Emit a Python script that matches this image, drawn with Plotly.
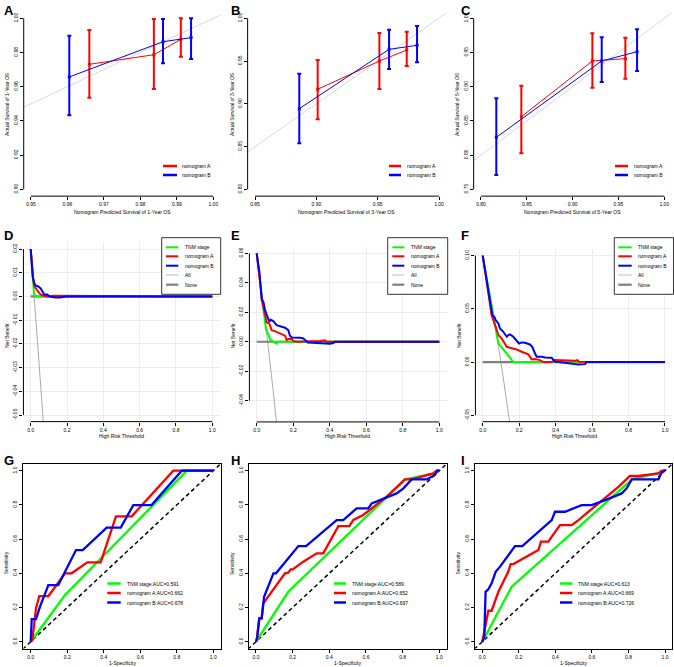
import plotly.graph_objects as go
from plotly.subplots import make_subplots

W, H = 674, 667
FONT = "Liberation Sans, Arial, sans-serif"
RED, BLUE, GREEN = "#FF0000", "#0000FF", "#00FF00"
GREY_ALL, GREY_NONE = "#AAAAAA", "#808080"

# ---------- A-C : calibration curves ----------
cal_outcome = ["1-Year OS", "3-Year OS", "5-Year OS"]
cal_names = ["nomogram A", "nomogram B"]
ideal = [0, 1.1]

nomA_x = [[0.9660, 0.9837, 0.9911], [0.9011, 0.9514, 0.9737], [0.8440, 0.9215, 0.9575]]
nomA_y = [[0.9731, 0.9787, 0.9877], [0.9170, 0.9500, 0.9629], [0.8561, 0.9376, 0.9410]]
nomA_lo = [[0.9536, 0.9587, 0.9775], [0.8819, 0.9173, 0.9442], [0.8026, 0.8985, 0.9117]]
nomA_hi = [[0.9932, 0.9996, 1.0000], [0.9512, 0.9828, 0.9843], [0.9015, 0.9780, 0.9716]]

nomB_x = [[0.9605, 0.9862, 0.9939], [0.8861, 0.9593, 0.9821], [0.8167, 0.9317, 0.9703]]
nomB_y = [[0.9657, 0.9863, 0.9887], [0.8943, 0.9637, 0.9684], [0.8260, 0.9376, 0.9512]]
nomB_lo = [[0.9433, 0.9737, 0.9762], [0.8538, 0.9407, 0.9485], [0.7710, 0.9069, 0.9230]]
nomB_hi = [[0.9898, 0.9996, 1.0000], [0.9352, 0.9867, 0.9910], [0.8830, 0.9722, 0.9839]]

# ---------- D-F : decision curves ----------
dca_names = ["TNM stage", "nomogram A", "nomogram B", "All", "None"]
none_x, none_y = [0, 1], [0, 0]
all_x = [[0, 0.02, 0.04, 0.06, 0.08], [0, 0.03, 0.06, 0.09, 0.12], [0, 0.05, 0.10, 0.15]]
all_y = [[0.02, 0.0, -0.021, -0.043, -0.065], [0.06, 0.031, 0.0, -0.033, -0.068], [0.10, 0.053, 0.0, -0.059]]

tnm_x = [[0, 0.007, 0.013, 0.018, 0.026, 1.0],
         [0, 0.027, 0.05, 0.075, 0.10, 0.11, 0.115, 1.0],
         [0, 0.068, 0.086, 0.13, 0.168, 1.0]]
tnm_y = [[0.02, 0.0111, 0.0055, 0.0013, 0, 0],
         [0.06, 0.033, 0.009, 0.0012, -0.0005, -0.0012, 0, 0],
         [0.10, 0.0347, 0.0175, 0.0085, 0, 0]]

dA_x = [[0, 0.009, 0.015, 0.022, 0.033, 0.048, 0.061, 0.088, 0.125, 0.152, 0.161, 1.0],
        [0, 0.018, 0.033, 0.046, 0.055, 0.069, 0.082, 0.10, 0.119, 0.137, 0.155, 0.164, 0.173,
         0.192, 0.20, 0.219, 0.255, 0.347, 0.374, 0.383, 1.0],
        [0, 0.031, 0.049, 0.068, 0.086, 0.104, 0.113, 0.132, 0.150, 0.186, 0.214, 0.250, 0.269,
         0.287, 0.314, 0.333, 0.378, 0.397, 0.510, 0.519, 0.528, 0.570, 1.0]]
dA_y = [[0.02, 0.0104, 0.0069, 0.0041, 0.0027, 0.0013, 0.0006, 0, 0.0003, 0.0003, 0, 0],
        [0.06, 0.0407, 0.0249, 0.0181, 0.0131, 0.0124, 0.0079, 0.0072, 0.0063, 0.0052, 0.0041,
         0.0011, 0.0018, 0.0018, 0.0005, 0, 0, 0.0005, 0.0009, 0, 0],
        [0.10, 0.0629, 0.0441, 0.0347, 0.0254, 0.0222, 0.0197, 0.0144, 0.0135, 0.0119, 0.0097,
         0.0072, 0.0025, 0.0028, 0.0019, 0, 0, 0.0019, 0.0013, 0.0019, 0.0003, 0, 0]]

dB_x = [[0, 0.0055, 0.011, 0.020, 0.029, 0.042, 0.055, 0.066, 0.075, 0.092, 0.103, 0.134, 0.161,
         0.198, 1.0],
        [0, 0.0146, 0.0274, 0.0365, 0.0456, 0.0547, 0.0693, 0.0766, 0.0912, 0.109, 0.128, 0.155,
         0.173, 0.182, 0.192, 0.210, 0.237, 0.255, 0.27, 0.28, 0.328, 0.40, 0.42, 0.43, 1.0],
        [0, 0.022, 0.040, 0.053, 0.064, 0.071, 0.086, 0.095, 0.113, 0.132, 0.141, 0.150, 0.168,
         0.186, 0.199, 0.214, 0.232, 0.259, 0.272, 0.287, 0.296, 0.324, 0.342, 0.378, 0.397,
         0.415, 0.488, 0.525, 0.561, 0.570, 1.0]]
dB_y = [[0.02, 0.0132, 0.0083, 0.0055, 0.0045, 0.0042, 0.0034, 0.002, 0.0008, 0.0008, 0, -0.0004,
         -0.0004, 0, 0],
        [0.06, 0.0475, 0.0283, 0.0271, 0.0215, 0.0181, 0.0136, 0.0149, 0.0140, 0.0113, 0.0106,
         0.0095, 0.0079, 0.0041, 0.0029, 0.0029, 0.0027, 0.0023, 0.0005, -0.0005, -0.0009,
         -0.0014, -0.0009, 0, 0],
        [0.10, 0.0756, 0.0566, 0.0441, 0.0426, 0.0395, 0.0363, 0.0316, 0.0285, 0.0238, 0.0254,
         0.0260, 0.0238, 0.0207, 0.0175, 0.0185, 0.0182, 0.0166, 0.0144, 0.0081, 0.005, 0.005,
         0.0044, 0.0041, 0.0003, 0, -0.0013, -0.0022, -0.0019, 0, 0]]

# ---------- G-I : ROC curves ----------
roc_labels = [["TNM stage:AUC=0.591", "nomogram A:AUC=0.662", "nomogram B:AUC=0.678"],
              ["TNM stage:AUC=0.589", "nomogram A:AUC=0.652", "nomogram B:AUC=0.697"],
              ["TNM stage:AUC=0.613", "nomogram A:AUC=0.669", "nomogram B:AUC=0.726"]]
chance = [-0.1, 1.1]

rT_x = [[0, 0.188, 0.855, 1.0], [0, 0.176, 0.813, 0.976, 0.995, 1.0], [0, 0.161, 0.82, 0.98, 1.0]]
rT_y = [[0, 0.273, 1.0, 1.0], [0, 0.292, 0.949, 0.984, 1.0, 1.0], [0, 0.322, 0.95, 0.99, 1.0]]

rA_x = [[0, 0.009, 0.029, 0.047, 0.097, 0.188, 0.224, 0.31, 0.383, 0.467, 0.553, 0.781, 1.0],
        [0, 0.004, 0.018, 0.031, 0.04, 0.158, 0.176, 0.189, 0.2, 0.258, 0.331, 0.367, 0.449,
         0.509, 0.531, 0.585, 0.713, 0.813, 0.849, 0.967, 0.985, 1.0],
        [0, 0.033, 0.051, 0.088, 0.142, 0.155, 0.17, 0.307, 0.321, 0.361, 0.425, 0.489, 0.526,
         0.58, 0.745, 0.808, 0.854, 0.964, 0.982, 1.0]]
rA_y = [[0, 0.01, 0.195, 0.267, 0.267, 0.40, 0.40, 0.464, 0.464, 0.733, 0.733, 1.0, 1.0],
        [0, 0.01, 0.136, 0.136, 0.224, 0.40, 0.404, 0.423, 0.423, 0.468, 0.517, 0.517, 0.676,
         0.676, 0.712, 0.741, 0.848, 0.949, 0.949, 0.984, 1.0, 1.0],
        [0, 0.181, 0.181, 0.292, 0.409, 0.454, 0.454, 0.536, 0.585, 0.585, 0.682, 0.682, 0.711,
         0.76, 0.906, 0.969, 0.969, 0.984, 1.0, 1.0]]

rB_x = [[0, 0.0055, 0.029, 0.042, 0.051, 0.0967, 0.151, 0.248, 0.285, 0.416, 0.493, 0.562, 0.662,
         0.827, 1.0],
        [0, 0.007, 0.018, 0.031, 0.044, 0.095, 0.109, 0.231, 0.273, 0.404, 0.44, 0.476, 0.549,
         0.613, 0.631, 0.767, 0.804, 0.849, 0.931, 0.976, 0.989, 1.0],
        [0, 0.011, 0.018, 0.033, 0.051, 0.073, 0.097, 0.179, 0.219, 0.38, 0.398, 0.453, 0.544,
         0.599, 0.672, 0.763, 0.79, 0.818, 0.964, 0.978, 0.996, 1.0]]
rB_y = [[0, 0.1326, 0.1326, 0.185, 0.205, 0.331, 0.331, 0.536, 0.536, 0.667, 0.667, 0.799, 0.799,
         1.0, 1.0],
        [0, 0.029, 0.136, 0.136, 0.263, 0.40, 0.40, 0.559, 0.559, 0.682, 0.711, 0.711, 0.78,
         0.78, 0.809, 0.867, 0.897, 0.949, 0.949, 0.975, 1.0, 1.0],
        [0, 0.029, 0.292, 0.306, 0.341, 0.409, 0.439, 0.559, 0.559, 0.711, 0.76, 0.76, 0.799,
         0.799, 0.828, 0.867, 0.897, 0.949, 0.949, 0.984, 1.0, 1.0]]

# ---------- panel geometry (pixel position of first/last tick) ----------
letters = list("ABCDEFGHI")
x_lims = [(0.95, 1.0), (0.85, 1.0), (0.80, 1.0)] + [(0, 1)] * 6
x_ticks = [(0.95, 1.0, 0.01), (0.85, 1.0, 0.05), (0.80, 1.0, 0.05)] + [(0, 1, 0.2)] * 6
x_px = [(31, 213.3), (255, 439), (481, 664.3),
        (30.7, 212.3), (256.7, 439.3), (482.7, 665),
        (30.7, 213.3), (256, 439.3), (482.3, 665)]
y_lims = [(0.90, 1.0), (0.80, 1.0), (0.75, 1.0),
          (-0.05, 0.02), (-0.05, 0.06), (-0.05, 0.10), (0, 1), (0, 1), (0, 1)]
y_ticks = [(0.90, 1.0, 0.02), (0.80, 1.0, 0.05), (0.75, 1.0, 0.05),
           (-0.05, 0.02, 0.01), (-0.04, 0.06, 0.02), (-0.05, 0.10, 0.05)] + [(0, 1, 0.2)] * 3
y_px = [(189.3, 18.3)] * 3 + [(415, 249), (400.7, 253.3), (415.3, 255.7)] + [(641.7, 470.7)] * 3
x_dec = [2, 2, 2, 1, 1, 1, 1, 1, 1]
y_dec = [2, 2, 2, 2, 2, 2, 1, 1, 1]


def span(lim, ticks, px):
    e = 0.04 * (lim[1] - lim[0])
    r = [lim[0] - e, lim[1] + e]
    s = (px[1] - px[0]) / (ticks[1] - ticks[0])
    return r, [px[0] + (v - ticks[0]) * s for v in r]


def tickset(t, d):
    n = int(round((t[1] - t[0]) / t[2]))
    vals = [round(t[0] + i * t[2], 4) + 0.0 for i in range(n + 1)]
    return vals, [f"{v:.{d}f}" for v in vals]


def px(x):
    return x / W


def py(y):
    return 1 - y / H


fig = make_subplots(rows=3, cols=3)
shapes, annos = [], []

for k in range(9):
    n = "" if k == 0 else str(k + 1)
    row = k // 3
    xr, xp = span(x_lims[k], x_ticks[k], x_px[k])
    yr, yp = span(y_lims[k], y_ticks[k], y_px[k])
    xv, xt = tickset(x_ticks[k], x_dec[k])
    yv, yt = tickset(y_ticks[k], y_dec[k])
    common = dict(ticks="outside", ticklen=3, tickwidth=0.8, tickcolor="black",
                  tickfont=dict(size=5, color="black", family=FONT), zeroline=False,
                  showgrid=(row == 1), gridcolor="#EDEDED", gridwidth=0.8,
                  showline=(row == 2), mirror=(row == 2), linecolor="black", linewidth=1)
    fig.layout["xaxis" + n].update(range=xr, domain=[max(0, px(xp[0])), min(1, px(xp[1]))],
                                   tickmode="array", tickvals=xv, ticktext=xt, **common)
    fig.layout["yaxis" + n].update(range=yr, domain=[py(yp[0]), py(yp[1])], tickangle=-90,
                                   tickmode="array", tickvals=yv, ticktext=yt, **common)
    if row < 2:
        shapes.append(dict(type="line", xref="x" + n, yref="y" + n + " domain",
                           x0=x_ticks[k][0], x1=x_ticks[k][1], y0=0, y1=0,
                           line=dict(color="black", width=1)))
        shapes.append(dict(type="line", xref="x" + n + " domain", yref="y" + n,
                           x0=0, x1=0, y0=y_ticks[k][0], y1=y_ticks[k][1],
                           line=dict(color="black", width=1)))
    # panel letter
    lx = [2, 229, 459][k % 3]
    ly = [1, 226, 451][row]
    annos.append(dict(text=f"<b>{letters[k]}</b>", x=px(lx), y=py(ly), xref="paper", yref="paper",
                      xanchor="left", yanchor="top", showarrow=False,
                      font=dict(size=13, color="black", family=FONT)))

# ---------- calibration traces ----------
for i in range(3):
    fig.add_trace(go.Scatter(x=ideal, y=ideal, mode="lines", line=dict(color="#D9D9D9", width=1),
                             showlegend=False, hoverinfo="skip"), row=1, col=i + 1)
    for xs, ys, lo, hi, c in [(nomA_x[i], nomA_y[i], nomA_lo[i], nomA_hi[i], RED),
                              (nomB_x[i], nomB_y[i], nomB_lo[i], nomB_hi[i], BLUE)]:
        fig.add_trace(go.Scatter(
            x=xs, y=ys, mode="lines+markers", line=dict(color=c, width=1),
            marker=dict(symbol="square", size=3, color=c),
            error_y=dict(type="data", symmetric=False,
                         array=[h - y for h, y in zip(hi, ys)],
                         arrayminus=[y - l for l, y in zip(lo, ys)],
                         color=c, thickness=2, width=2),
            showlegend=False), row=1, col=i + 1)

# ---------- decision curve traces ----------
for i in range(3):
    c = i + 1
    fig.add_trace(go.Scatter(x=all_x[i], y=all_y[i], mode="lines",
                             line=dict(color=GREY_ALL, width=1), showlegend=False), row=2, col=c)
    fig.add_trace(go.Scatter(x=none_x, y=none_y, mode="lines",
                             line=dict(color=GREY_NONE, width=2.2), showlegend=False), row=2, col=c)
    for xs, ys, col in [(tnm_x[i], tnm_y[i], GREEN), (dA_x[i], dA_y[i], RED), (dB_x[i], dB_y[i], BLUE)]:
        fig.add_trace(go.Scatter(x=xs, y=ys, mode="lines", line=dict(color=col, width=2),
                                 showlegend=False), row=2, col=c)

# ---------- ROC traces ----------
for i in range(3):
    c = i + 1
    fig.add_trace(go.Scatter(x=chance, y=chance, mode="lines",
                             line=dict(color="black", width=1.5, dash="4px,3px"),
                             showlegend=False), row=3, col=c)
    for xs, ys, col in [(rT_x[i], rT_y[i], GREEN), (rA_x[i], rA_y[i], RED), (rB_x[i], rB_y[i], BLUE)]:
        fig.add_trace(go.Scatter(x=xs, y=ys, mode="lines", line=dict(color=col, width=2.3),
                                 showlegend=False), row=3, col=c)


# ---------- manual legends ----------
def legend_item(x0, x1, xt, y, color, width, label):
    shapes.append(dict(type="line", xref="paper", yref="paper", x0=px(x0), x1=px(x1),
                       y0=py(y), y1=py(y), line=dict(color=color, width=width)))
    annos.append(dict(text=label, x=px(xt), y=py(y), xref="paper", yref="paper",
                      xanchor="left", yanchor="middle", showarrow=False,
                      font=dict(size=5, color="black", family=FONT)))


for (x0, x1, xt) in [(163, 177, 180), (389, 401, 405), (615, 628, 632)]:
    for y, col, lab in zip([166, 175], [RED, BLUE], cal_names):
        legend_item(x0, x1, xt, y, col, 2.5, lab)

for (bx0, bx1, x0, x1, xt) in [(161.7, 220.7, 166, 178.3, 182.7),
                               (387.7, 447.7, 392.3, 404.3, 409.3),
                               (614.3, 673.5, 618.3, 631.7, 636)]:
    shapes.append(dict(type="rect", xref="paper", yref="paper", x0=px(bx0), x1=px(bx1),
                       y0=py(237.7), y1=py(294.3), line=dict(color="black", width=0.8),
                       fillcolor="white", layer="above"))
    for y, col, w, lab in zip([247.3, 256.3, 265.7, 275, 284.7],
                              [GREEN, RED, BLUE, GREY_ALL, GREY_NONE],
                              [2, 2, 2, 0.8, 2.2], dca_names):
        legend_item(x0, x1, xt, y, col, w, lab)

for i, (x0, x1, xt) in enumerate([(107.3, 120.7, 125), (334, 346, 350), (560, 572.3, 576)]):
    for y, col, lab in zip([583.5, 593, 602.5], [GREEN, RED, BLUE], roc_labels[i]):
        legend_item(x0, x1, xt, y, col, 2.5, lab)


# ---------- axis titles ----------
def title(text, x, y, angle=0):
    annos.append(dict(text=text, x=px(x), y=py(y), xref="paper", yref="paper",
                      xanchor="center", yanchor="middle", showarrow=False, textangle=angle,
                      font=dict(size=5, color="black", family=FONT)))


for i in range(3):
    title(f"Nomogram Predicted Survival of {cal_outcome[i]}", [122, 347, 572.7][i], 211.7)
    title(f"Actual Survival of {cal_outcome[i]}", [7, 232, 457][i], 104, -90)
    title("High Risk Threshold", [121.5, 348, 574][i], 436)
    title("Net Benefit", [7, 233.3, 459][i], 336, -90)
    title("1-Specificity", [122, 347.7, 573.7][i], 662.7)
    title("Sensitivity", [6, 232.7, 458.3][i], 563.3, -90)

fig.update_layout(width=W, height=H, margin=dict(l=0, r=0, t=0, b=0),
                  paper_bgcolor="white", plot_bgcolor="white", showlegend=False,
                  font=dict(family=FONT, color="black"), shapes=shapes, annotations=annos)

fig.write_html("out.html", config={"displayModeBar": False},
               post_script="document.body.style.margin='0';")
